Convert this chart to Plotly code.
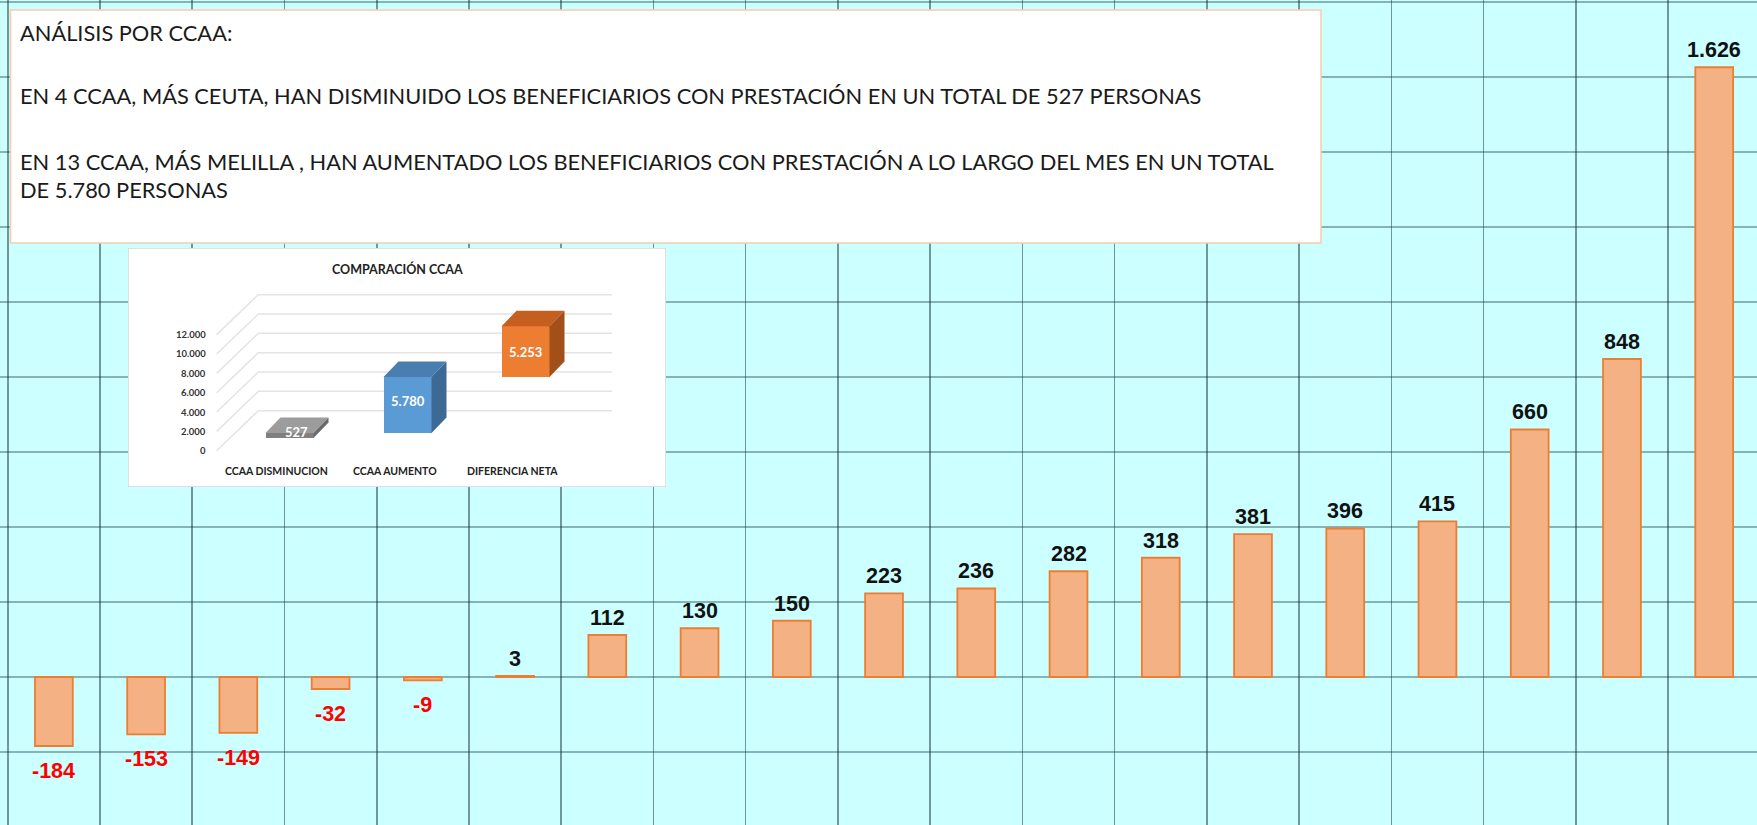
import plotly.graph_objects as go

# ---------------- data ----------------
ccaa_values = [-184, -153, -149, -32, -9, 3, 112, 130, 150, 223, 236, 282, 318, 381, 396, 415, 660, 848, 1626]

inset_categories = ["CCAA DISMINUCION", "CCAA AUMENTO", "DIFERENCIA NETA"]
inset_values = [527, 5780, 5253]
inset_ticks = [0, 2000, 4000, 6000, 8000, 10000, 12000]

text_lines = [
    "ANÁLISIS POR CCAA:",
    "EN 4 CCAA, MÁS CEUTA, HAN DISMINUIDO LOS BENEFICIARIOS CON PRESTACIÓN EN UN TOTAL DE 527 PERSONAS",
    "EN 13 CCAA, MÁS MELILLA , HAN AUMENTADO LOS BENEFICIARIOS CON PRESTACIÓN A LO LARGO DEL MES EN UN TOTAL",
    "DE 5.780 PERSONAS",
]
inset_title = "COMPARACIÓN CCAA"

# ---------------- styling / geometry ----------------
W, H = 1757, 825
BG = "#CCFFFF"
GRID_X = "rgba(20,50,50,0.5)"
GRID_Y = "rgba(20,55,55,0.38)"
BAR_FILL = "#F4B183"
BAR_LINE = "#ED7D31"


def fmt(v):
    return f"{v:,}".replace(",", ".")


def px_x(p):
    return p / W


def px_y(p):
    return 1 - p / H


fig = go.Figure()

# main bars
idx = list(range(len(ccaa_values)))
fig.add_trace(go.Bar(
    x=idx, y=ccaa_values, width=0.41,
    marker=dict(color=BAR_FILL, line=dict(color=BAR_LINE, width=1.8)),
    xaxis="x", yaxis="y", hoverinfo="skip",
))

annotations = []
for i, v in enumerate(ccaa_values):
    if v >= 0:
        annotations.append(dict(
            x=i, y=v, xref="x", yref="y", text=fmt(v), showarrow=False,
            xanchor="center", yanchor="bottom", yshift=3,
            font=dict(family="Liberation Sans, Arial", size=21.5, color="#111111", weight="bold"),
        ))
    else:
        annotations.append(dict(
            x=i, y=v, xref="x", yref="y", text=fmt(v), showarrow=False,
            xanchor="center", yanchor="top", yshift=-11,
            font=dict(family="Liberation Sans, Arial", size=21.5, color="#FF0000", weight="bold"),
        ))

# ---------------- inset pseudo-3D chart ----------------
SPACING = 118.0          # px between inset categories
C0 = 289.5               # px of first category centre
PXU = 0.00967            # px per value unit
BASE_PY = 433.0          # px of value 0 in bar row
IN_L, IN_R, IN_T, IN_B = 128, 666, 248, 487
x2_range = [(IN_L - C0) / SPACING, (IN_R - C0) / SPACING]
y2_range = [(BASE_PY - IN_B) / PXU, (BASE_PY - IN_T) / PXU]

DDX = 15 / SPACING
DDY = 15.6 / PXU
BW = 48 / SPACING

front_c = (216.7 - C0) / SPACING
back_c = (258.3 - C0) / SPACING
right_c = (612 - C0) / SPACING
front_off = (BASE_PY - 450.7) / PXU
back_off = (BASE_PY - 410.7) / PXU

shapes = [
    dict(type="rect", xref="paper", yref="paper", layer="above",
         x0=px_x(10.5), x1=px_x(1321), y0=px_y(243), y1=px_y(10),
         fillcolor="white", line=dict(color="#F8CBAD", width=1.5)),
    dict(type="rect", xref="x2", yref="y2", layer="below",
         x0=x2_range[0], x1=x2_range[1], y0=y2_range[0], y1=y2_range[1],
         fillcolor="white", line=dict(color="#D6D6D6", width=1.5)),
]

for t in inset_ticks:
    path = (f"M {front_c},{t + front_off} L {back_c},{t + back_off} "
            f"L {right_c},{t + back_off}")
    shapes.append(dict(type="path", xref="x2", yref="y2", layer="below", path=path,
                       line=dict(color="#E4E4E4", width=1.5)))
    annotations.append(dict(
        x=(208 - C0) / SPACING, y=t + front_off, xref="x2", yref="y2",
        text=fmt(t), showarrow=False, xanchor="right", yanchor="middle",
        font=dict(family="Lato", size=9.5, color="#333333", weight="bold"),
    ))

bases = [-inset_values[0], 0, inset_values[1]]
tops = [bases[0] + inset_values[0], inset_values[1], inset_values[1] + inset_values[2]]
front_cols = ["#808080", "#5B9BD5", "#ED7D31"]
top_cols = ["#9C9C9C", "#4A7EB0", "#C45F1F"]
side_cols = ["#6A6A6A", "#3D6A95", "#A24F1A"]

fig.add_trace(go.Bar(
    x=[0, 1, 2], y=inset_values, base=bases, width=BW,
    marker=dict(color=front_cols, line=dict(width=0)),
    xaxis="x2", yaxis="y2", hoverinfo="skip",
))

for i in range(3):
    c = i
    b, t = bases[i], tops[i]
    l, r = c - BW / 2, c + BW / 2
    # top face
    fig.add_trace(go.Scatter(
        x=[l, r, r + DDX, l + DDX, l], y=[t, t, t + DDY, t + DDY, t],
        fill="toself", fillcolor=top_cols[i], mode="lines", line=dict(width=0, color=top_cols[i]),
        xaxis="x2", yaxis="y2", hoverinfo="skip",
    ))
    # side face
    fig.add_trace(go.Scatter(
        x=[r, r, r + DDX, r + DDX, r], y=[b, t, t + DDY, b + DDY, b],
        fill="toself", fillcolor=side_cols[i], mode="lines", line=dict(width=0, color=side_cols[i]),
        xaxis="x2", yaxis="y2", hoverinfo="skip",
    ))

for i in range(3):
    mid = (bases[i] + tops[i]) / 2
    annotations.append(dict(
        x=i + (0.06 if i == 0 else 0), y=mid, xref="x2", yref="y2", text=fmt(inset_values[i]),
        showarrow=False, xanchor="center", yshift=4 if i != 2 else 0,
        font=dict(family="Lato", size=13, color="white", weight="bold"),
    ))
    annotations.append(dict(
        x=i - 0.106, y=(BASE_PY - 471) / PXU, xref="x2", yref="y2", text=inset_categories[i],
        showarrow=False, xanchor="center",
        font=dict(family="Lato", size=10.5, color="#222222", weight="bold"),
    ))

annotations.append(dict(
    x=px_x(397.5), y=px_y(269), xref="paper", yref="paper", text=inset_title,
    showarrow=False, xanchor="center", yanchor="middle",
    font=dict(family="Lato", size=12.5, color="#222222", weight="bold"),
))

# ---------------- text box ----------------
line_y = [32.5, 96, 161, 189.5]
for txt, yy in zip(text_lines, line_y):
    annotations.append(dict(
        x=px_x(18), y=px_y(yy), xref="paper", yref="paper", text=txt,
        showarrow=False, xanchor="left", yanchor="middle",
        font=dict(family="Lato", size=21.8, color="#1A1A1A"),
    ))

fig.update_layout(
    width=W, height=H, autosize=False,
    margin=dict(l=0, r=0, t=0, b=0, pad=0),
    paper_bgcolor=BG, plot_bgcolor=BG,
    showlegend=False, bargap=0,
    xaxis=dict(domain=[0, 1], range=[-0.584, 18.464], tickmode="linear", tick0=-0.5, dtick=1,
               showgrid=True, gridcolor=GRID_X, gridwidth=1.6, showticklabels=False,
               zeroline=False, showline=False, ticks="", fixedrange=True),
    yaxis=dict(domain=[0, 1], range=[-394.7, 1805.3], tickmode="linear", tick0=0, dtick=200,
               showgrid=True, gridcolor=GRID_Y, gridwidth=1.6, showticklabels=False,
               zeroline=False, showline=False, ticks="", fixedrange=True),
    xaxis2=dict(domain=[px_x(IN_L), px_x(IN_R)], range=x2_range, visible=False, anchor="y2"),
    yaxis2=dict(domain=[px_y(IN_B), px_y(IN_T)], range=y2_range, visible=False, anchor="x2"),
    annotations=annotations,
    shapes=shapes,
)

fig.write_html(
    "out.html",
    config={"displayModeBar": False, "staticPlot": True},
    post_script="document.body.style.margin='0px';document.body.style.overflow='hidden';",
)
